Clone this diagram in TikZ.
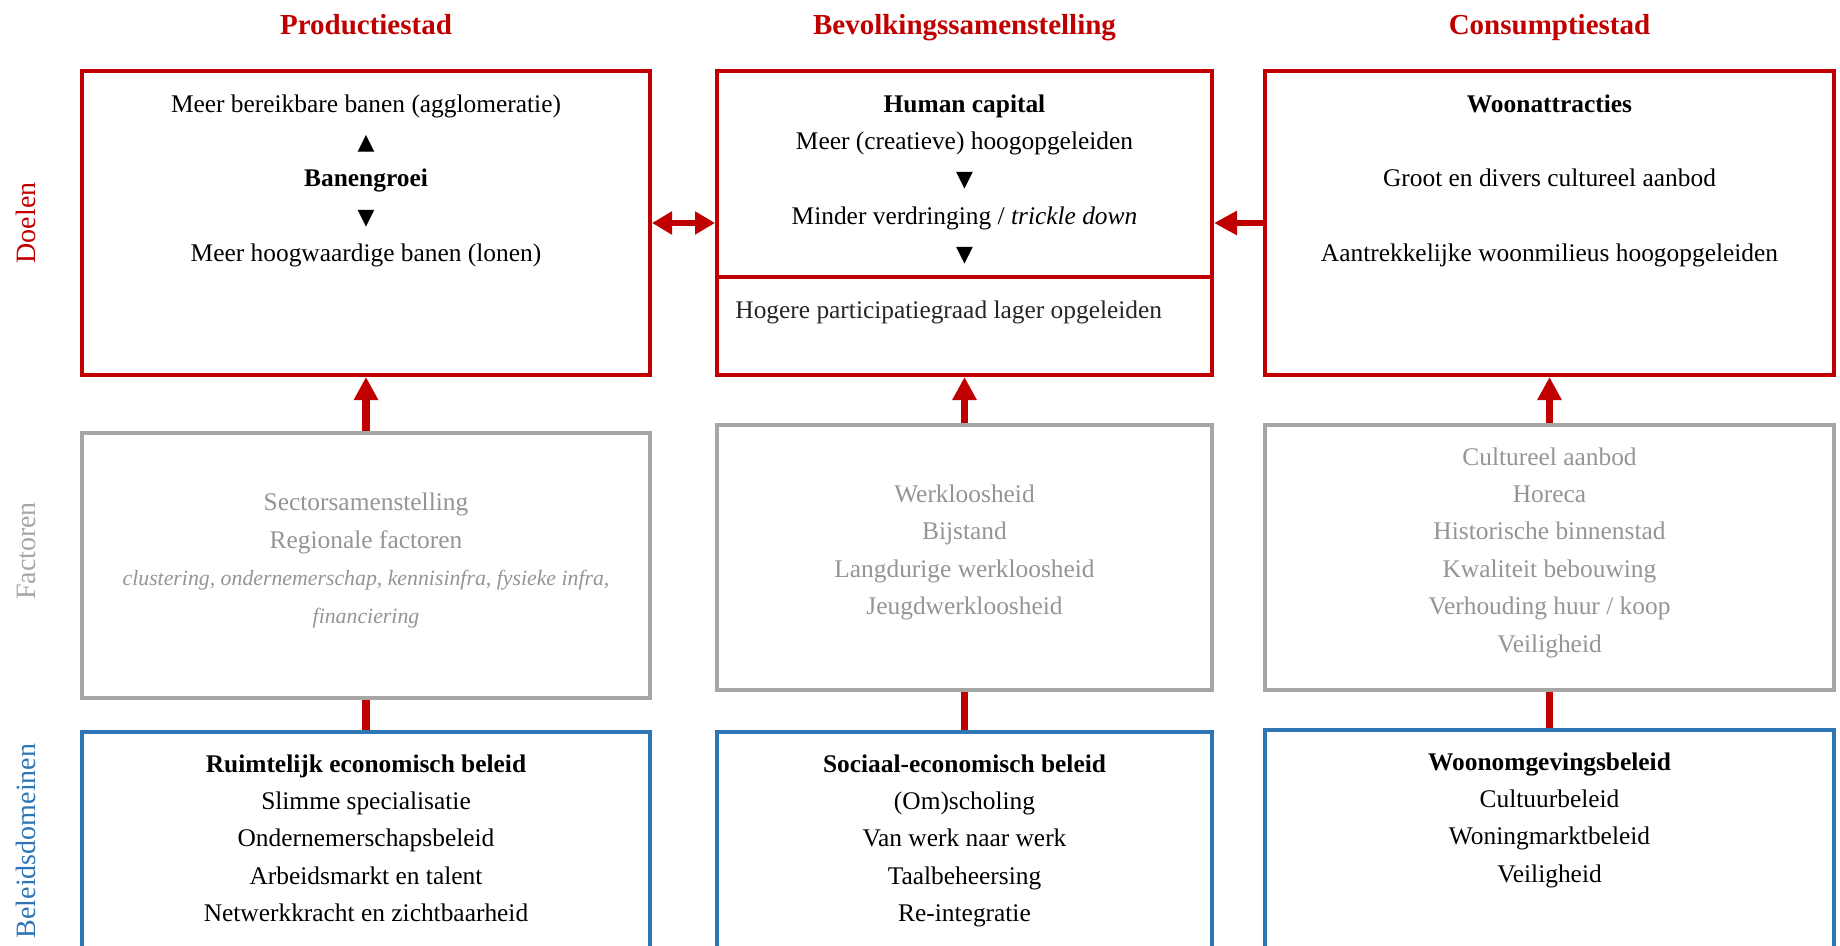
\documentclass[tikz,border=0pt]{standalone}
\usepackage{fontspec}
\setmainfont{Liberation Serif}
\newfontfamily\symfont{DejaVu Sans}
\usepackage{xcolor}
\usetikzlibrary{positioning,calc,arrows.meta}
\definecolor{doelred}{HTML}{C00000}
\definecolor{factgray}{HTML}{A6A6A6}
\definecolor{facttext}{HTML}{959595}
\definecolor{beleidblue}{HTML}{2E75B6}
\newcommand{\up}{{\symfont\fontsize{11}{18.7}\selectfont ▲}}
\newcommand{\down}{{\symfont\fontsize{11}{18.7}\selectfont ▼}}

\begin{document}
\begin{tikzpicture}[x=0.5pt, y=-0.5pt,
    doelbox/.style={draw=doelred, line width=2pt, rectangle, minimum height=152pt},
    factbox/.style={draw=factgray, line width=2pt, rectangle, minimum height=132.5pt},
    beleidbox/.style={draw=beleidblue, line width=2pt, rectangle, minimum height=132.5pt},
    wide/.style={minimum width=284pt},
    narrow/.style={minimum width=247.5pt},
    txt/.style={align=center, inner sep=0pt, font=\fontsize{12.7}{18.7}\selectfont},
    coltitle/.style={text=doelred, font=\fontsize{14.5}{17}\selectfont\bfseries, text height=0.7em, text depth=0.25em, inner sep=0pt},
    rowlabel/.style={rotate=90, inner sep=0pt, font=\fontsize{14}{16}\selectfont},
    redarrow/.style={color=doelred, line width=3.8pt, -{Triangle[length=11.5pt, width=11.5pt]}},
    reddouble/.style={color=doelred, line width=3.2pt, {Triangle[length=10pt, width=11pt]}-{Triangle[length=10pt, width=11pt]}},
    redlink/.style={color=doelred, line width=3.8pt}
]
    \clip (0,0) rectangle (1840,946);
    \fill[white] (0,0) rectangle (1840,946);

    % Doelen
    \node [doelbox, wide] (D1) at (366,223) {};
    \node [doelbox, narrow, minimum height=103pt] (D2) at (964.5,174) {};
    \node [doelbox, narrow, minimum height=49pt, below=-2pt of D2] (D2b) {};
    \node [doelbox, wide, minimum width=284.5pt] (D3) at (1549.5,223) {};

    % Factoren
    \node [factbox, wide, below=27pt of D1] (F1) {};
    \node [factbox, narrow, below=23pt of D2b] (F2) {};
    \node [factbox, wide, minimum width=284.5pt, below=23pt of D3] (F3) {};

    % Beleidsdomeinen
    \node [beleidbox, wide, below=15pt of F1] (B1) {};
    \node [beleidbox, narrow, below=19pt of F2] (B2) {};
    \node [beleidbox, wide, minimum width=284.5pt, below=18pt of F3] (B3) {};

    % kolomtitels en rijlabels
    \coordinate (titlerow) at (0,30);
    \node [coltitle] (T1) at (D1 |- titlerow) {Productiestad};
    \node [coltitle] (T2) at (D2 |- titlerow) {Bevolkingssamenstelling};
    \node [coltitle] (T3) at (D3 |- titlerow) {Consumptiestad};
    \node [rowlabel, text=doelred] (Ldoel) at (26,223) {Doelen};
    \node [rowlabel, text=factgray] (Lfact) at (26,551) {Factoren};
    \node [rowlabel, text=beleidblue] (Lbeleid) at (26,841) {Beleidsdomeinen};

    % teksten
    \node [txt, below=12.5pt of D1.north] (D1t) {Meer bereikbare banen (agglomeratie)\\ \up\\ \textbf{Banengroei}\\ \down\\ Meer hoogwaardige banen (lonen)};
    \node [txt, below=12.5pt of D2.north] (D2t) {\textbf{Human capital}\\ Meer (creatieve) hoogopgeleiden\\ \down\\ Minder verdringing / \textit{trickle down}\\ \down};
    \node [txt, text=black!85, right=10pt of D2b.west, yshift=7pt] (D2bt) {Hogere participatiegraad lager opgeleiden};
    \node [txt, below=12.5pt of D3.north] (D3t) {\textbf{Woonattracties}\\[18.7pt] Groot en divers cultureel aanbod\\[18.7pt] Aantrekkelijke woonmilieus hoogopgeleiden};

    \node [txt, text=facttext, yshift=2.5pt] (F1t) at (F1) {Sectorsamenstelling\\ Regionale factoren\\ {\fontsize{10.9}{18.7}\selectfont\itshape clustering, ondernemerschap, kennisinfra, fysieke infra,}\\ {\fontsize{10.9}{18.7}\selectfont\itshape financiering}};
    \node [txt, text=facttext, yshift=2.5pt] (F2t) at (F2) {Werkloosheid\\ Bijstand\\ Langdurige werkloosheid\\ Jeugdwerkloosheid};
    \node [txt, text=facttext, yshift=2.5pt] (F3t) at (F3) {Cultureel aanbod\\ Horeca\\ Historische binnenstad\\ Kwaliteit bebouwing\\ Verhouding huur / koop\\ Veiligheid};

    \node [txt, below=12pt of B1.north] (B1t) {\textbf{Ruimtelijk economisch beleid}\\ Slimme specialisatie\\ Ondernemerschapsbeleid\\ Arbeidsmarkt en talent\\ Netwerkkracht en zichtbaarheid};
    \node [txt, below=12pt of B2.north] (B2t) {\textbf{Sociaal-economisch beleid}\\ (Om)scholing\\ Van werk naar werk\\ Taalbeheersing\\ Re-integratie};
    \node [txt, below=12pt of B3.north] (B3t) {\textbf{Woonomgevingsbeleid}\\ Cultuurbeleid\\ Woningmarktbeleid\\ Veiligheid};

    % verbindingen
    \draw [reddouble] (D1.east) -- (D1.east -| D2.west);
    \draw [redarrow, line width=3.4pt] (D3.west) -- (D3.west -| D2.east);
    \draw [redarrow] (F1) -- (D1);
    \draw [redarrow] (F2) -- (D2b);
    \draw [redarrow] (F3) -- (D3);
    \draw [redlink] (B1) -- (F1);
    \draw [redlink] (B2) -- (F2);
    \draw [redlink] (B3) -- (F3);
\end{tikzpicture}
\end{document}
